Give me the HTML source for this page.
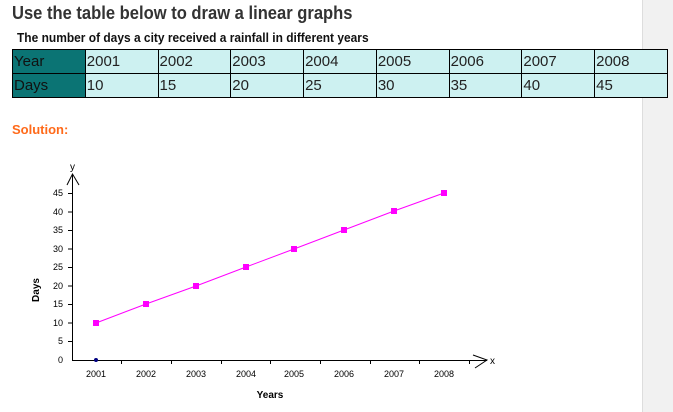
<!DOCTYPE html>
<html><head><style>
body{margin:0;width:673px;height:412px;background:#fff;position:relative;overflow:hidden;font-family:"Liberation Sans",sans-serif}
.sb{position:absolute;left:642px;top:0;width:31px;height:412px;background:#f1f1f1;border-left:1px solid #ddd}
h1{position:absolute;left:12px;top:3px;margin:0;font-size:18px;font-weight:bold;color:#333;transform:scaleX(0.92);transform-origin:left}
.sub{position:absolute;left:17px;top:30px;font-size:13px;font-weight:bold;color:#111;transform:scaleX(0.92);transform-origin:left}
table{position:absolute;left:12px;top:49px;border-collapse:collapse;font-size:15px;width:656px;table-layout:fixed}
td{border:1px solid #000;background:#cdf1f1;height:23px;padding:0 1px;vertical-align:middle;color:#222}
td.h{background:#0b7474;color:#111}
.sol{position:absolute;left:12px;top:122px;color:#ff6a1a;font-weight:bold;font-size:13px}
</style></head><body>
<div class="sb"></div>
<h1>Use the table below to draw a linear graphs</h1>
<div class="sub">The number of days a city received a rainfall in different years</div>
<table>
<tr><td class="h">Year</td><td>2001</td><td>2002</td><td>2003</td><td>2004</td><td>2005</td><td>2006</td><td>2007</td><td>2008</td></tr>
<tr><td class="h">Days</td><td>10</td><td>15</td><td>20</td><td>25</td><td>30</td><td>35</td><td>40</td><td>45</td></tr>
</table>
<div class="sol">Solution:</div>
<svg width="673" height="412" style="position:absolute;left:0;top:0" font-family="Liberation Sans,sans-serif" font-size="9">
<g stroke="#000" stroke-width="1" fill="none">
<line x1="72.5" y1="174" x2="72.5" y2="360"/>
<line x1="72" y1="360.5" x2="487" y2="360.5"/>
<polyline points="67,185 72.5,174 79,185"/>
<polyline points="473,355 487,360 475,368"/>
<g>
<line x1="68" y1="193.5" x2="72" y2="193.5"/><line x1="68" y1="212" x2="72" y2="212"/><line x1="68" y1="230.5" x2="72" y2="230.5"/><line x1="68" y1="249" x2="72" y2="249"/><line x1="68" y1="267.5" x2="72" y2="267.5"/><line x1="68" y1="286" x2="72" y2="286"/><line x1="68" y1="304.5" x2="72" y2="304.5"/><line x1="68" y1="323" x2="72" y2="323"/><line x1="68" y1="341.5" x2="72" y2="341.5"/>
<line x1="121.5" y1="360" x2="121.5" y2="364"/><line x1="171.5" y1="360" x2="171.5" y2="364"/><line x1="221.5" y1="360" x2="221.5" y2="364"/><line x1="270.5" y1="360" x2="270.5" y2="364"/><line x1="320.5" y1="360" x2="320.5" y2="364"/><line x1="370.5" y1="360" x2="370.5" y2="364"/><line x1="419.5" y1="360" x2="419.5" y2="364"/><line x1="469.5" y1="360" x2="469.5" y2="364"/>
</g></g>
<polyline points="96,323 146,304 196,286 246,267 294,249 344,230 394,211 444,193" stroke="#ff00ff" fill="none"/>
<g fill="#ff00ff">
<rect x="93" y="320" width="6" height="6"/><rect x="143" y="301" width="6" height="6"/><rect x="193" y="283" width="6" height="6"/><rect x="243" y="264" width="6" height="6"/><rect x="291" y="246" width="6" height="6"/><rect x="341" y="227" width="6" height="6"/><rect x="391" y="208" width="6" height="6"/><rect x="441" y="190" width="6" height="6"/>
</g>
<circle cx="96" cy="360" r="2" fill="#000080"/>
<g text-anchor="end">
<text x="63" y="196">45</text><text x="63" y="215">40</text><text x="63" y="233">35</text><text x="63" y="252">30</text><text x="63" y="270">25</text><text x="63" y="289">20</text><text x="63" y="307">15</text><text x="63" y="326">10</text><text x="63" y="344">5</text><text x="63" y="363">0</text>
</g>
<g text-anchor="middle">
<text x="96" y="377">2001</text><text x="146" y="377">2002</text><text x="196" y="377">2003</text><text x="246" y="377">2004</text><text x="294" y="377">2005</text><text x="344" y="377">2006</text><text x="394" y="377">2007</text><text x="444" y="377">2008</text>
</g>
<text x="70" y="170" font-size="10">y</text>
<text x="490" y="364" font-size="10">x</text>
<text x="270" y="398" text-anchor="middle" font-weight="bold" font-size="10">Years</text>
<text transform="translate(39,290) rotate(-90)" text-anchor="middle" font-weight="bold" font-size="10">Days</text>
</svg>
</body></html>
